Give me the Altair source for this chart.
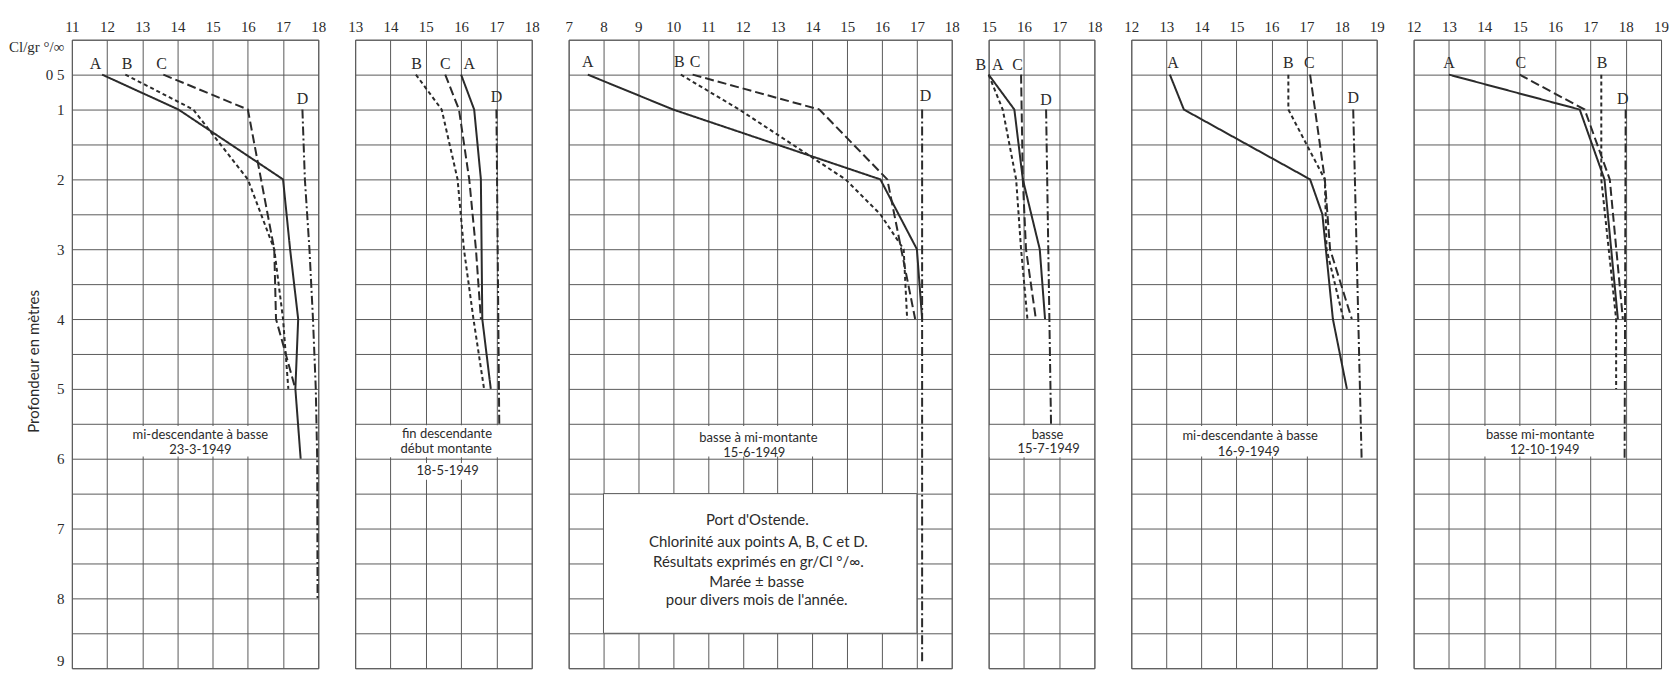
import altair as alt
import pandas as pd

# ---------------- data ----------------
SERIES = ["A", "B", "C", "D"]
DEPTH_GRID = [0, 0.5, 1, 1.5, 2, 2.5, 3, 3.5, 4, 4.5, 5, 5.5, 6, 6.5, 7, 7.5, 8, 8.5, 9]
DEPTH_LABEL_VALUES = [0, 0.5, 1, 2, 3, 4, 5, 6, 7, 8, 9]
DEPTH_LABEL_TEXT = ["Cl/gr °/∞", "0 5", "1", "2", "3", "4", "5", "6", "7", "8", "9"]

# Panel 1 : 23-3-1949
P1_X_TICKS = [11, 12, 13, 14, 15, 16, 17, 18]
P1_A_DEPTH = [0.5, 1, 2, 3, 4, 5, 6]
P1_A_VALUE = [11.86, 14.03, 17.0, 17.2, 17.43, 17.35, 17.5]
P1_B_DEPTH = [0.5, 1, 2, 3, 4, 5]
P1_B_VALUE = [12.52, 14.45, 16.0, 16.75, 17.0, 17.15]
P1_C_DEPTH = [0.5, 1, 3, 4, 5]
P1_C_VALUE = [13.6, 16.0, 16.75, 16.8, 17.35]
P1_D_DEPTH = [1, 2, 3, 4, 5, 6, 8]
P1_D_VALUE = [17.55, 17.62, 17.75, 17.85, 17.93, 17.97, 17.98]
P1_LABEL_X = [11.67, 12.57, 13.55, 17.55]
P1_LABEL_DEPTH = [0.35, 0.35, 0.35, 0.85]
P1_NOTE_TEXT = ["mi-descendante à basse", "23-3-1949"]
P1_NOTE_X = [14.65, 14.65]
P1_NOTE_DEPTH = [5.66, 5.88]
P1_BOX_X = [12.35]
P1_BOX_X2 = [16.95]
P1_BOX_D = [5.53]
P1_BOX_D2 = [5.97]

# Panel 2 : 18-5-1949
P2_X_TICKS = [13, 14, 15, 16, 17, 18]
P2_A_DEPTH = [0.5, 1, 2, 4, 5]
P2_A_VALUE = [16.0, 16.37, 16.56, 16.6, 16.84]
P2_B_DEPTH = [0.5, 1, 2, 3, 4, 5]
P2_B_VALUE = [14.72, 15.45, 15.9, 16.08, 16.35, 16.65]
P2_C_DEPTH = [0.5, 1, 2, 3, 4]
P2_C_VALUE = [15.55, 15.94, 16.23, 16.42, 16.56]
P2_D_DEPTH = [1, 5.5]
P2_D_VALUE = [17.0, 17.08]
P2_LABEL_X = [16.23, 14.74, 15.55, 17.0]
P2_LABEL_DEPTH = [0.35, 0.35, 0.35, 0.82]
P2_NOTE_TEXT = ["fin descendante", "début montante", "18-5-1949"]
P2_NOTE_X = [15.6, 15.58, 15.62]
P2_NOTE_DEPTH = [5.65, 5.86, 6.17]
P2_BOX_X = [13.03, 14.65]
P2_BOX_X2 = [17.97, 16.6]
P2_BOX_D = [5.52, 6.06]
P2_BOX_D2 = [5.98, 6.3]

# Panel 3 : 15-6-1949
P3_X_TICKS = [7, 8, 9, 10, 11, 12, 13, 14, 15, 16, 17, 18]
P3_A_DEPTH = [0.5, 1, 2, 3, 4]
P3_A_VALUE = [7.55, 10.0, 15.95, 17.0, 17.15]
P3_B_DEPTH = [0.5, 1, 2, 2.5, 3, 4]
P3_B_VALUE = [10.22, 11.9, 14.95, 15.95, 16.62, 16.72]
P3_C_DEPTH = [0.5, 1, 2, 4]
P3_C_VALUE = [10.56, 14.2, 16.15, 16.95]
P3_D_DEPTH = [1, 8.9]
P3_D_VALUE = [17.15, 17.15]
P3_LABEL_X = [7.55, 10.18, 10.63, 17.25]
P3_LABEL_DEPTH = [0.32, 0.32, 0.32, 0.8]
P3_NOTE_TEXT = ["basse à mi-montante", "15-6-1949"]
P3_NOTE_X = [12.45, 12.33]
P3_NOTE_DEPTH = [5.7, 5.92]
P3_BOX_X = [10.25]
P3_BOX_X2 = [14.65]
P3_BOX_D = [5.53]
P3_BOX_D2 = [5.97]
LEGEND_TEXT = [
    "Port d'Ostende.",
    "Chlorinité aux points A, B, C et D.",
    "Résultats exprimés en gr/Cl °/∞.",
    "Marée ± basse",
    "pour divers mois de l'année.",
]
LEGEND_X = [12.42, 12.45, 12.45, 12.4, 12.4]
LEGEND_DEPTH = [6.88, 7.2, 7.48, 7.76, 8.03]
LEGEND_BOX_X = [8]
LEGEND_BOX_X2 = [17]
LEGEND_BOX_D = [6.5]
LEGEND_BOX_D2 = [8.5]

# Panel 4 : 15-7-1949
P4_X_TICKS = [15, 16, 17, 18]
P4_A_DEPTH = [0.5, 1, 2, 3, 4]
P4_A_VALUE = [15.0, 15.73, 15.97, 16.45, 16.6]
P4_B_DEPTH = [0.5, 1, 2, 3, 4]
P4_B_VALUE = [15.0, 15.4, 15.78, 15.92, 16.1]
P4_C_DEPTH = [0.5, 2, 3, 4]
P4_C_VALUE = [15.92, 15.97, 16.06, 16.34]
P4_D_DEPTH = [1, 5.5]
P4_D_VALUE = [16.63, 16.77]
P4_LABEL_X = [15.26, 14.78, 15.82, 16.63]
P4_LABEL_DEPTH = [0.36, 0.36, 0.36, 0.86]
P4_NOTE_TEXT = ["basse", "15-7-1949"]
P4_NOTE_X = [16.67, 16.7]
P4_NOTE_DEPTH = [5.66, 5.86]
P4_BOX_X = [15.03]
P4_BOX_X2 = [17.97]
P4_BOX_D = [5.52]
P4_BOX_D2 = [5.98]

# Panel 5 : 16-9-1949
P5_X_TICKS = [12, 13, 14, 15, 16, 17, 18, 19]
P5_A_DEPTH = [0.5, 1, 2, 2.5, 4, 5]
P5_A_VALUE = [13.1, 13.5, 17.1, 17.45, 17.75, 18.15]
P5_B_DEPTH = [0.5, 1, 2, 3, 4]
P5_B_VALUE = [16.48, 16.48, 17.52, 17.57, 18.05]
P5_C_DEPTH = [0.5, 2, 3, 4]
P5_C_VALUE = [17.1, 17.52, 17.67, 18.29]
P5_D_DEPTH = [1, 6]
P5_D_VALUE = [18.33, 18.57]
P5_LABEL_X = [13.19, 16.48, 17.08, 18.33]
P5_LABEL_DEPTH = [0.34, 0.34, 0.34, 0.84]
P5_NOTE_TEXT = ["mi-descendante à basse", "16-9-1949"]
P5_NOTE_X = [15.39, 15.35]
P5_NOTE_DEPTH = [5.68, 5.9]
P5_BOX_X = [13.1]
P5_BOX_X2 = [17.7]
P5_BOX_D = [5.53]
P5_BOX_D2 = [5.97]

# Panel 6 : 12-10-1949
P6_X_TICKS = [12, 13, 14, 15, 16, 17, 18, 19]
P6_A_DEPTH = [0.5, 1, 2, 4]
P6_A_VALUE = [13.0, 16.7, 17.4, 17.78]
P6_B_DEPTH = [0.5, 2, 4, 5]
P6_B_VALUE = [17.31, 17.31, 17.73, 17.73]
P6_C_DEPTH = [0.5, 1, 2, 4]
P6_C_VALUE = [15.0, 16.84, 17.55, 17.92]
P6_D_DEPTH = [1, 6]
P6_D_VALUE = [18.0, 17.97]
P6_LABEL_X = [13.0, 17.33, 15.03, 17.92]
P6_LABEL_DEPTH = [0.34, 0.34, 0.34, 0.85]
P6_NOTE_TEXT = ["basse mi-montante", "12-10-1949"]
P6_NOTE_X = [15.58, 15.71]
P6_NOTE_DEPTH = [5.66, 5.88]
P6_BOX_X = [13.55]
P6_BOX_X2 = [17.6]
P6_BOX_D = [5.53]
P6_BOX_D2 = [5.97]

# ---------------- style ----------------
INK = "#2b2b2b"
GRID = "#5a5a5a"
SERIF = "Liberation Serif"
SANS = "Lato"
DASHES = [[1, 0], [4, 3], [9, 4], [9, 3, 2, 3]]
PANEL_WIDTHS = [247, 177, 384, 106, 246, 248]
PLOT_H = 630


def label_expr():
    parts = []
    for v, t in zip(DEPTH_LABEL_VALUES, DEPTH_LABEL_TEXT):
        parts.append(f"datum.value == {v} ? '{t}' : ")
    return "".join(parts) + "''"


def make_panel(width, ticks, series, lab_x, lab_d, note_t, note_x, note_d,
               boxes, first=False, legend=None):
    rows = []
    for s, (depths, values) in zip(SERIES, series):
        for d, v in zip(depths, values):
            rows.append({"series": s, "depth": d, "value": v})
    lines_df = pd.DataFrame(rows)

    xscale = alt.Scale(domain=[ticks[0], ticks[-1]], nice=False, zero=False)
    yscale = alt.Scale(domain=[0, 9], reverse=True, nice=False, zero=False)

    if first:
        yaxis = alt.Axis(
            values=DEPTH_GRID, labelExpr=label_expr(), grid=True, ticks=False,
            domain=False, labelFont=SERIF, labelFontSize=15, labelColor=INK,
            labelPadding=8, labelFlush=True, labelOverlap=False,
            title="Profondeur en mètres", titleFont=SANS, titleFontSize=15,
            titleFontWeight="normal", titleColor=INK, titleX=-38, titleY=322,
            titleAlign="center", titleBaseline="middle", titleAngle=270,
        )
    else:
        yaxis = alt.Axis(values=DEPTH_GRID, grid=True, ticks=False, domain=False,
                         labels=False, title=None)
    xaxis = alt.Axis(
        orient="top", values=ticks, grid=True, ticks=False, domain=False,
        labelFont=SERIF, labelFontSize=15, labelColor=INK, labelPadding=5,
        labelOverlap=False, labelFlush=False, title=None,
    )

    def X(field):
        return alt.X(field, scale=xscale, axis=xaxis)

    def Y(field):
        return alt.Y(field, scale=yscale, axis=yaxis)

    lines = alt.Chart(lines_df).mark_line(color=INK, strokeWidth=2).encode(
        x=X("value:Q"),
        y=Y("depth:Q"),
        strokeDash=alt.StrokeDash("series:N", scale=alt.Scale(domain=SERIES, range=DASHES), legend=None),
        detail="series:N",
        order=alt.Order("depth:Q"),
    )

    box_rows = [{"value": a, "x1": b, "depth": c, "d1": d} for a, b, c, d in zip(*boxes)]
    under = [
        alt.Chart(pd.DataFrame(box_rows)).mark_rect(fill="white").encode(
            x=X("value:Q"), x2="x1:Q", y=Y("depth:Q"), y2="d1:Q",
        )
    ]
    over = []
    if legend is not None:
        bx, bx2, bd, bd2, lt, lx, ld = legend
        lb = [{"value": a, "x1": b, "depth": c, "d1": d} for a, b, c, d in zip(bx, bx2, bd, bd2)]
        under.append(
            alt.Chart(pd.DataFrame(lb)).mark_rect(fill="white", stroke=GRID, strokeWidth=1).encode(
                x=X("value:Q"), x2="x1:Q", y=Y("depth:Q"), y2="d1:Q",
            )
        )
        over.append(
            alt.Chart(pd.DataFrame({"t": lt, "value": lx, "depth": ld})).mark_text(
                font=SANS, fontSize=15, color=INK, align="center", baseline="middle"
            ).encode(x=X("value:Q"), y=Y("depth:Q"), text="t:N")
        )
    over.append(
        alt.Chart(pd.DataFrame({"t": note_t, "value": note_x, "depth": note_d})).mark_text(
            font=SANS, fontSize=13, color=INK, align="center", baseline="middle"
        ).encode(x=X("value:Q"), y=Y("depth:Q"), text="t:N")
    )
    over.append(
        alt.Chart(pd.DataFrame({"t": SERIES, "value": lab_x, "depth": lab_d})).mark_text(
            font=SERIF, fontSize=16, color=INK, align="center", baseline="middle"
        ).encode(x=X("value:Q"), y=Y("depth:Q"), text="t:N")
    )
    return alt.layer(*(under + [lines] + over)).properties(width=width, height=PLOT_H)


p1 = make_panel(PANEL_WIDTHS[0], P1_X_TICKS,
                [(P1_A_DEPTH, P1_A_VALUE), (P1_B_DEPTH, P1_B_VALUE), (P1_C_DEPTH, P1_C_VALUE), (P1_D_DEPTH, P1_D_VALUE)],
                P1_LABEL_X, P1_LABEL_DEPTH, P1_NOTE_TEXT, P1_NOTE_X, P1_NOTE_DEPTH,
                (P1_BOX_X, P1_BOX_X2, P1_BOX_D, P1_BOX_D2), first=True)
p2 = make_panel(PANEL_WIDTHS[1], P2_X_TICKS,
                [(P2_A_DEPTH, P2_A_VALUE), (P2_B_DEPTH, P2_B_VALUE), (P2_C_DEPTH, P2_C_VALUE), (P2_D_DEPTH, P2_D_VALUE)],
                P2_LABEL_X, P2_LABEL_DEPTH, P2_NOTE_TEXT, P2_NOTE_X, P2_NOTE_DEPTH,
                (P2_BOX_X, P2_BOX_X2, P2_BOX_D, P2_BOX_D2))
p3 = make_panel(PANEL_WIDTHS[2], P3_X_TICKS,
                [(P3_A_DEPTH, P3_A_VALUE), (P3_B_DEPTH, P3_B_VALUE), (P3_C_DEPTH, P3_C_VALUE), (P3_D_DEPTH, P3_D_VALUE)],
                P3_LABEL_X, P3_LABEL_DEPTH, P3_NOTE_TEXT, P3_NOTE_X, P3_NOTE_DEPTH,
                (P3_BOX_X, P3_BOX_X2, P3_BOX_D, P3_BOX_D2),
                legend=(LEGEND_BOX_X, LEGEND_BOX_X2, LEGEND_BOX_D, LEGEND_BOX_D2, LEGEND_TEXT, LEGEND_X, LEGEND_DEPTH))
p4 = make_panel(PANEL_WIDTHS[3], P4_X_TICKS,
                [(P4_A_DEPTH, P4_A_VALUE), (P4_B_DEPTH, P4_B_VALUE), (P4_C_DEPTH, P4_C_VALUE), (P4_D_DEPTH, P4_D_VALUE)],
                P4_LABEL_X, P4_LABEL_DEPTH, P4_NOTE_TEXT, P4_NOTE_X, P4_NOTE_DEPTH,
                (P4_BOX_X, P4_BOX_X2, P4_BOX_D, P4_BOX_D2))
p5 = make_panel(PANEL_WIDTHS[4], P5_X_TICKS,
                [(P5_A_DEPTH, P5_A_VALUE), (P5_B_DEPTH, P5_B_VALUE), (P5_C_DEPTH, P5_C_VALUE), (P5_D_DEPTH, P5_D_VALUE)],
                P5_LABEL_X, P5_LABEL_DEPTH, P5_NOTE_TEXT, P5_NOTE_X, P5_NOTE_DEPTH,
                (P5_BOX_X, P5_BOX_X2, P5_BOX_D, P5_BOX_D2))
p6 = make_panel(PANEL_WIDTHS[5], P6_X_TICKS,
                [(P6_A_DEPTH, P6_A_VALUE), (P6_B_DEPTH, P6_B_VALUE), (P6_C_DEPTH, P6_C_VALUE), (P6_D_DEPTH, P6_D_VALUE)],
                P6_LABEL_X, P6_LABEL_DEPTH, P6_NOTE_TEXT, P6_NOTE_X, P6_NOTE_DEPTH,
                (P6_BOX_X, P6_BOX_X2, P6_BOX_D, P6_BOX_D2))

chart = (
    alt.hconcat(p1, p2, p3, p4, p5, p6, spacing=37, bounds="flush")
    .properties(padding={"left": 0, "top": 10, "right": 0, "bottom": 0}, background="white")
    .configure_view(stroke=GRID, strokeWidth=1)
    .configure_axis(gridColor=GRID, gridWidth=1, gridOpacity=1)
)

chart.save("out.html", embed_options={"renderer": "svg", "actions": False})
